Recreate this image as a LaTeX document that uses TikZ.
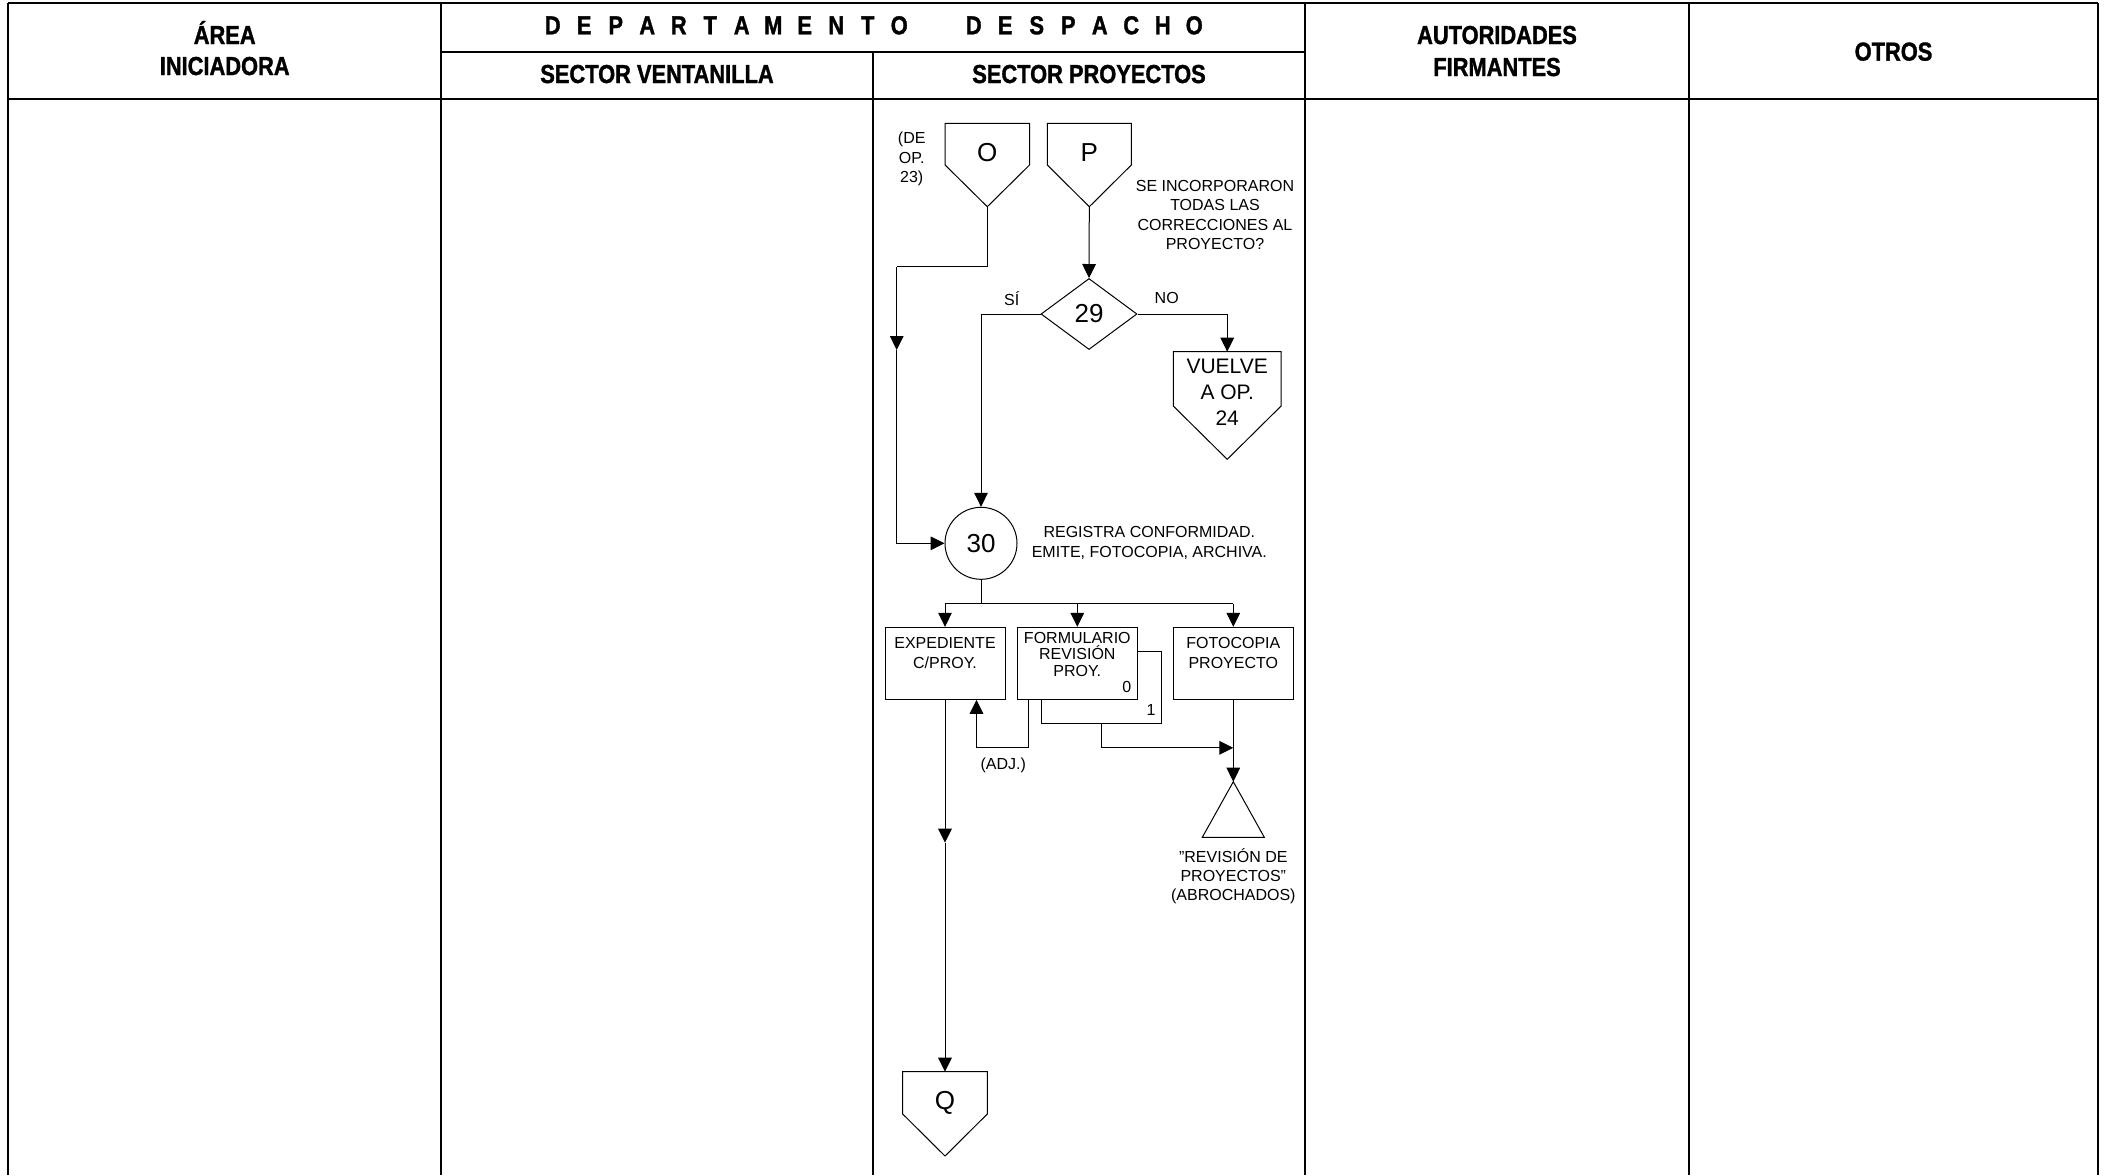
\documentclass[tikz,border=0pt]{standalone}
\usepackage{fontspec}
\setmainfont{Liberation Sans}
\newfontfamily\hdrfont[FakeStretch=0.84,FakeBold=1.3]{Liberation Sans}
\usetikzlibrary{arrows.meta,shapes.geometric,calc}
\newcommand\lbx[1]{\makebox[15.75pt]{#1}}
\newcommand\offpg[6]{% name, cx, ytop, halfw, yside, ytip
  \draw[ln,fill=white] (#2-#4,#3) -- (#2+#4,#3) -- (#2+#4,#5) -- (#2,#6) -- (#2-#4,#5) -- cycle;
  \coordinate (#1-top) at (#2,#3);
  \coordinate (#1-tip) at (#2,#6);
}
\begin{document}
\begin{tikzpicture}[x=0.5pt,y=-0.5pt,
  ln/.style={line width=0.5pt},
  arr/.style={-{Triangle[length=7pt,width=6.8pt]}},
  tbl/.style={line width=0.9pt},
  sm/.style={font=\fontsize{8}{9.6}\selectfont,align=center,inner sep=0pt},
  bigl/.style={font=\fontsize{13}{15}\selectfont,inner sep=0pt},
  hdr/.style={font=\hdrfont\bfseries\fontsize{13}{15.5}\selectfont,inner sep=0pt,anchor=base},
  box/.style={draw,line width=0.5pt,fill=white,rectangle,minimum width=60pt,minimum height=36pt,inner sep=0pt},
]
\useasboundingbox (0,0) rectangle (2109,1175);

% ---------- table ----------
\draw[tbl] (8.3,3.3) -- (2098,3.3);
\draw[tbl] (8.3,99) -- (2098,99);
\draw[tbl] (441,51.7) -- (1305,51.7);
\draw[tbl] (8.3,3.3) -- (8.3,1175);
\draw[tbl] (441,3.3) -- (441,1175);
\draw[tbl] (873.3,51.7) -- (873.3,1175);
\draw[tbl] (1305,3.3) -- (1305,1175);
\draw[tbl] (1689,3.3) -- (1689,1175);
\draw[tbl] (2098,3.3) -- (2098,1175);

% ---------- headers ----------
\node[hdr] (h1a) at (224.7,44) {ÁREA};
\node[hdr] (h1b) at (224.7,75) {INICIADORA};
\node[hdr] (h2a) at (726,34.3) {\lbx{D}\lbx{E}\lbx{P}\lbx{A}\lbx{R}\lbx{T}\lbx{A}\lbx{M}\lbx{E}\lbx{N}\lbx{T}\lbx{O}};
\node[hdr] (h2b) at (1084,34.3) {\lbx{D}\lbx{E}\lbx{S}\lbx{P}\lbx{A}\lbx{C}\lbx{H}\lbx{O}};
\node[hdr] (h3) at (657,83) {SECTOR VENTANILLA};
\node[hdr] (h4) at (1089,83) {SECTOR PROYECTOS};
\node[hdr] (h5a) at (1497,44) {AUTORIDADES};
\node[hdr] (h5b) at (1497,76) {FIRMANTES};
\node[hdr] (h6) at (1893.5,60.6) {OTROS};

% ---------- shapes ----------
\offpg{O}{987.3}{123.3}{42.2}{165}{206.7}
\node[bigl] (Ot) at (987.3,153) {O};
\offpg{P}{1089.3}{123.3}{42}{165}{206.7}
\node[bigl] (Pt) at (1089.3,153) {P};
\node[sm] (deop) at (911.7,159) {(DE\\OP.\\23)};
\node[sm] (preg) at (1215,215) {SE INCORPORARON\\TODAS LAS\\CORRECCIONES AL\\PROYECTO?};

\node[draw,line width=0.5pt,diamond,fill=white,minimum width=48pt,minimum height=35.5pt,inner sep=0pt,font=\fontsize{13}{15}\selectfont] (d29) at (1089,314) {29};
\node[sm] (si) at (1011.7,298.3) {SÍ};
\node[sm] (no) at (1166.7,298.3) {NO};

\offpg{V}{1227.2}{351.7}{53.9}{406}{459.3}
\node[font=\fontsize{10.5}{13}\selectfont,align=center,inner sep=0pt] (Vt) at (1227.2,392) {VUELVE\\A OP.\\24};

\node[draw,line width=0.5pt,circle,fill=white,minimum size=36pt,inner sep=0pt,font=\fontsize{13}{15}\selectfont] (c30) at (981,543.3) {30};
\node[sm] (reg) at (1149.3,543) {REGISTRA CONFORMIDAD.\\EMITE, FOTOCOPIA, ARCHIVA.};

\node[box] (exp) at (945,663.3) {};
\node[sm] (expt) at (945,653) {EXPEDIENTE\\C/PROY.};
\node[box,minimum width=60.35pt,minimum height=35.8pt] (formc) at (1101.35,687.5) {};
\node[sm] (one) at (1151,710) {1};
\node[box] (form) at (1077.3,663.3) {};
\node[sm,font=\fontsize{8}{8.1}\selectfont] (formt) at (1077.3,654.3) {FORMULARIO\\REVISIÓN\\PROY.};
\node[sm] (zero) at (1126.7,686.7) {0};
\node[box] (foto) at (1233.3,663.3) {};
\node[sm] (fotot) at (1233.3,653) {FOTOCOPIA\\PROYECTO};

\coordinate (tri) at (1233.3,781.7);
\draw[ln] (tri) -- ++(31,55.6) -- ++(-62,0) -- cycle;
\node[sm] (trit) at (1233.3,876) {"REVISIÓN DE\\PROYECTOS"\\(ABROCHADOS)};
\node[sm] (adj) at (1003.3,765) {(ADJ.)};

\offpg{Q}{945}{1071.7}{42.3}{1114}{1156}
\node[bigl] (Qt) at (945,1103.3) {Q};

% ---------- connectors ----------
\coordinate (obend) at (896.7,266.7);
\coordinate (omid) at (896.7,350);
\draw[ln] (O-tip) |- (obend);
\draw[ln,arr] (obend) -- (omid);
\draw[ln,arr] (omid) |- (c30.west);

\draw[ln,arr] (P-tip) -- (d29.north);
\draw[ln,arr] (d29.west) -| (c30.north);
\draw[ln,arr] (d29.east) -| (V-top);

\coordinate (bus) at ($(c30.south)+(0,24)$);
\draw[ln] (c30.south) -- (bus);
\draw[ln] (exp.north |- bus) -- (foto.north |- bus);
\draw[ln,arr] (exp.north |- bus) -- (exp.north);
\draw[ln,arr] (form.north |- bus) -- (form.north);
\draw[ln,arr] (foto.north |- bus) -- (foto.north);

\draw[ln,arr] ([xshift=6pt]form.south west) -- ++(0,48) -| ([xshift=-14.5pt]exp.south east);
\draw[ln,arr] (formc.south) |- ($(foto.south)+(0,48)$);
\draw[ln,arr] (foto.south) -- (tri);

\coordinate (emid) at (945,842.7);
\draw[ln,arr] (exp.south) -- (emid);
\draw[ln,arr] (emid) -- (Q-top);
\end{tikzpicture}
\end{document}
